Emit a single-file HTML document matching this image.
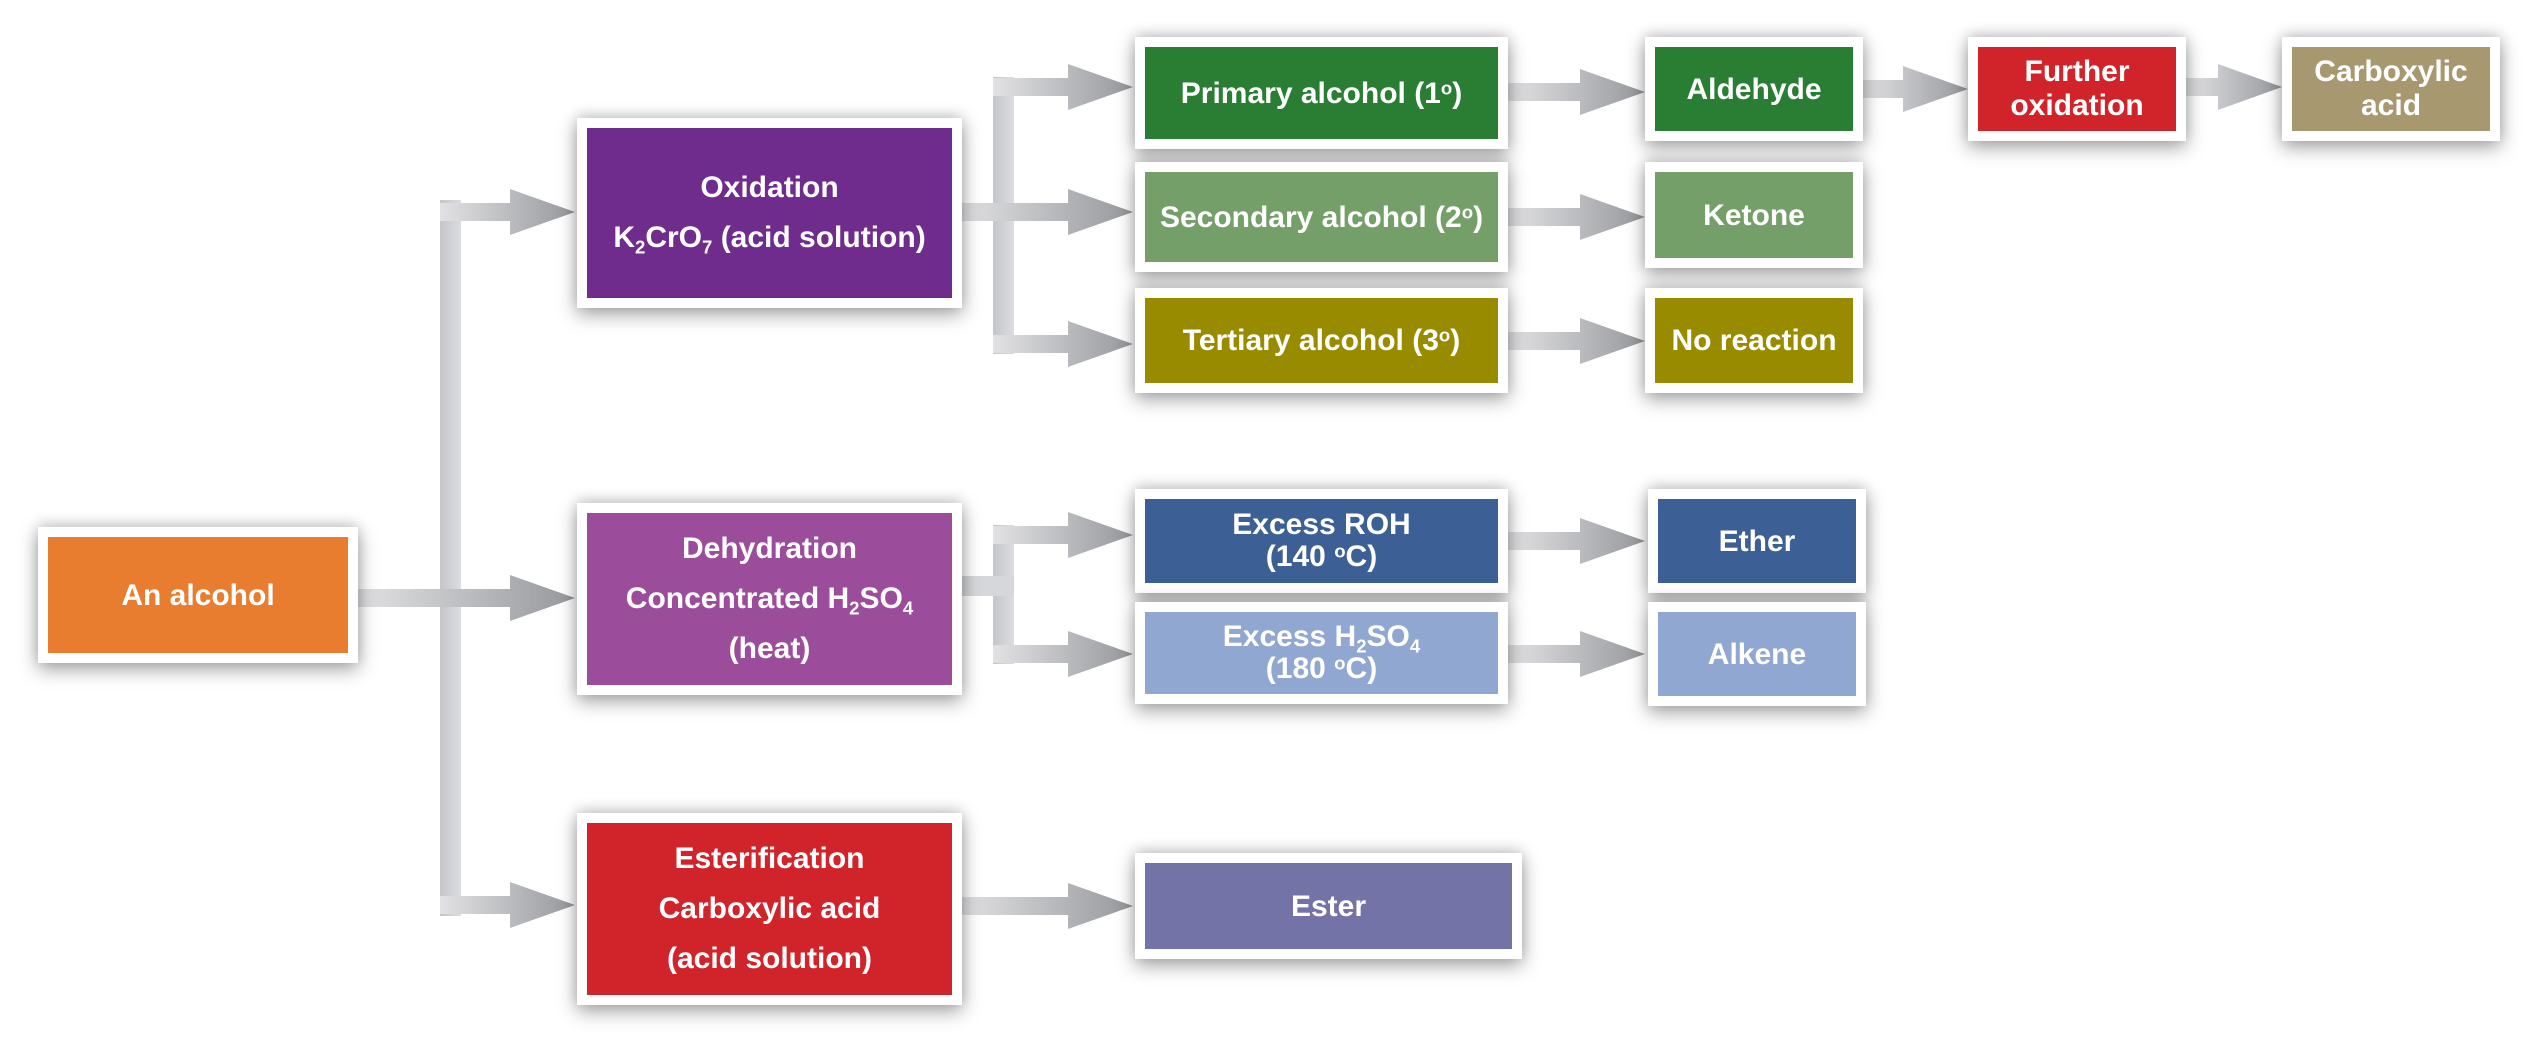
<!DOCTYPE html>
<html><head><meta charset="utf-8">
<style>
html,body{margin:0;padding:0;background:#fff;}
body{width:2538px;height:1039px;position:relative;overflow:hidden;font-family:"Liberation Sans",sans-serif;}
.b{position:absolute;background:#fff;box-shadow:0 6px 18px rgba(0,0,0,0.38),0 -4px 12px rgba(0,0,0,0.12);box-sizing:border-box;padding:10px;}
.b div{width:100%;height:100%;display:flex;align-items:center;justify-content:center;text-align:center;color:#fff;font-weight:bold;font-size:30px;line-height:37px;}
.b span{display:block;}
.big div{line-height:50px;}
sub{font-size:62%;vertical-align:-0.35em;line-height:0;}
sup{font-size:62%;vertical-align:0.45em;line-height:0;}
svg{position:absolute;left:0;top:0;}
</style></head><body>
<svg width="2538" height="1039">
<defs>
<linearGradient id="g" x1="0" y1="0" x2="1" y2="0"><stop offset="0" stop-color="#e2e2e4"/><stop offset="1" stop-color="#96989c"/></linearGradient>
<linearGradient id="t" x1="0" y1="0" x2="1" y2="0"><stop offset="0" stop-color="#c4c5c8"/><stop offset="1" stop-color="#dcdde0"/></linearGradient>
</defs>
<rect x="440" y="200" width="21" height="716" fill="url(#t)"/>
<rect x="993" y="77" width="21" height="277" fill="url(#t)"/>
<rect x="993" y="525" width="21" height="139" fill="url(#t)"/>
<rect x="958" y="576" width="56" height="20" fill="#d6d7da"/>
<g fill="url(#g)">
<path d="M440 203 H510 V189 L575 212 L510 235 V221 H440 Z"/>
<path d="M356 589 H510 V575 L575 598 L510 621 V607 H356 Z"/>
<path d="M440 896 H510 V882 L575 905 L510 928 V914 H440 Z"/>
<path d="M993 78 H1068 V64 L1133 87 L1068 110 V96 H993 Z"/>
<path d="M958 203 H1068 V189 L1133 212 L1068 235 V221 H958 Z"/>
<path d="M993 335 H1068 V321 L1133 344 L1068 367 V353 H993 Z"/>
<path d="M993 526 H1068 V512 L1133 535 L1068 558 V544 H993 Z"/>
<path d="M993 645 H1068 V631 L1133 654 L1068 677 V663 H993 Z"/>
<path d="M958 897 H1068 V883 L1133 906 L1068 929 V915 H958 Z"/>
<path d="M1508 83 H1580 V69 L1645 92 L1580 115 V101 H1508 Z"/>
<path d="M1508 208 H1580 V194 L1645 217 L1580 240 V226 H1508 Z"/>
<path d="M1508 332 H1580 V318 L1645 341 L1580 364 V350 H1508 Z"/>
<path d="M1508 532 H1580 V518 L1645 541 L1580 564 V550 H1508 Z"/>
<path d="M1508 645 H1580 V631 L1645 654 L1580 677 V663 H1508 Z"/>
<path d="M1863 80 H1903 V66 L1968 89 L1903 112 V98 H1863 Z"/>
<path d="M2186 78 H2218 V64 L2282 87 L2218 110 V96 H2186 Z"/>
</g>
</svg>

<div class="b" style="left:38px;top:527px;width:320px;height:136px"><div style="background:#e87d2f"><span>An alcohol</span></div></div>
<div class="b big" style="left:577px;top:118px;width:385px;height:190px"><div style="background:#6f2c8c"><span>Oxidation<br>K<sub>2</sub>CrO<sub>7</sub> (acid solution)</span></div></div>
<div class="b big" style="left:577px;top:503px;width:385px;height:192px"><div style="background:#9b4d9c"><span>Dehydration<br>Concentrated H<sub>2</sub>SO<sub>4</sub><br>(heat)</span></div></div>
<div class="b big" style="left:577px;top:813px;width:385px;height:192px"><div style="background:#d1232a"><span>Esterification<br>Carboxylic acid<br>(acid solution)</span></div></div>

<div class="b" style="left:1135px;top:37px;width:373px;height:112px"><div style="background:#2a7e34"><span>Primary alcohol (1<sup>o</sup>)</span></div></div>
<div class="b" style="left:1135px;top:162px;width:373px;height:110px"><div style="background:#759f69"><span>Secondary alcohol (2<sup>o</sup>)</span></div></div>
<div class="b" style="left:1135px;top:288px;width:373px;height:105px"><div style="background:#998b00"><span>Tertiary alcohol (3<sup>o</sup>)</span></div></div>
<div class="b" style="left:1135px;top:489px;width:373px;height:104px"><div style="background:#3c5f96;line-height:32px"><span>Excess ROH<br>(140 <sup>o</sup>C)</span></div></div>
<div class="b" style="left:1135px;top:602px;width:373px;height:102px"><div style="background:#90a7d1;line-height:32px"><span>Excess H<sub>2</sub>SO<sub>4</sub><br>(180 <sup>o</sup>C)</span></div></div>
<div class="b" style="left:1135px;top:853px;width:387px;height:106px"><div style="background:#7473a8"><span>Ester</span></div></div>

<div class="b" style="left:1645px;top:37px;width:218px;height:104px"><div style="background:#2a7e34"><span>Aldehyde</span></div></div>
<div class="b" style="left:1645px;top:162px;width:218px;height:106px"><div style="background:#759f69"><span>Ketone</span></div></div>
<div class="b" style="left:1645px;top:288px;width:218px;height:105px"><div style="background:#998b00"><span>No reaction</span></div></div>
<div class="b" style="left:1648px;top:489px;width:218px;height:104px"><div style="background:#3c5f96"><span>Ether</span></div></div>
<div class="b" style="left:1648px;top:602px;width:218px;height:104px"><div style="background:#90a7d1"><span>Alkene</span></div></div>

<div class="b" style="left:1968px;top:37px;width:218px;height:104px"><div style="background:#d1232a;line-height:34px"><span>Further<br>oxidation</span></div></div>
<div class="b" style="left:2282px;top:37px;width:218px;height:104px"><div style="background:#a89870;line-height:34px"><span>Carboxylic<br>acid</span></div></div>
</body></html>
